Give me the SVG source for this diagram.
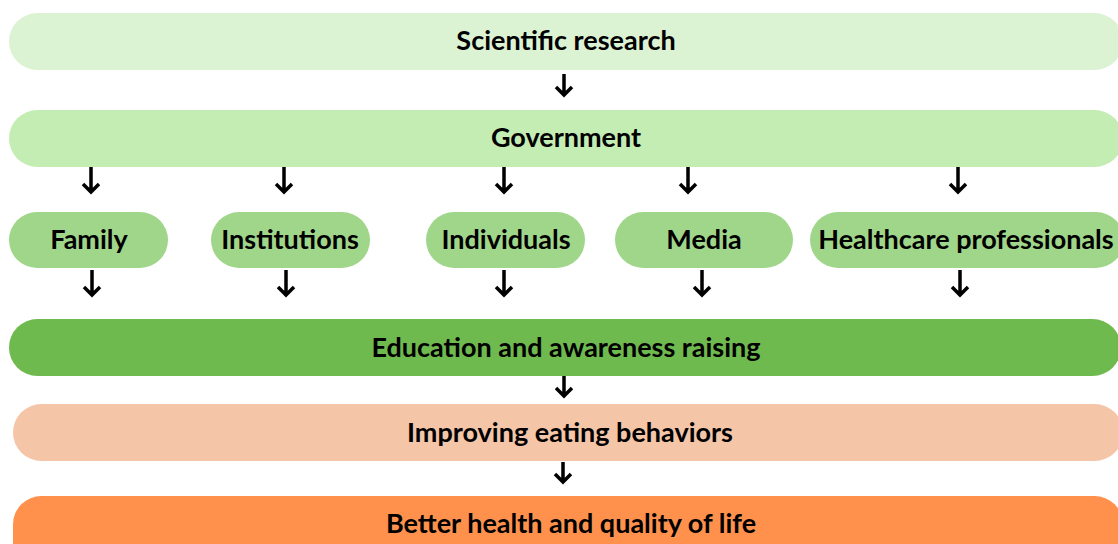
<svg xmlns="http://www.w3.org/2000/svg" width="1118" height="544" viewBox="0 0 1118 544">
  <style>
    .lbl { font-family: Lato, "Liberation Sans", sans-serif; font-weight: 700; font-size: 27px; fill: #000; text-anchor: middle; }
    .arr { fill: none; stroke: #000; stroke-width: 3.5; stroke-linecap: butt; stroke-linejoin: miter; }
  </style>
  <rect width="1118" height="544" fill="#ffffff"/>

  <g id="scientific-research">
    <rect x="9" y="13" width="1114" height="57" rx="28.5" fill="#DCF3D3"/>
    <text class="lbl" x="566" y="50">Scientific research</text>
  </g>

  <g id="government">
    <rect x="9" y="110" width="1114" height="57" rx="28.5" fill="#C4EDB4"/>
    <text class="lbl" x="566" y="147">Government</text>
  </g>

  <g id="family">
    <rect x="9" y="212" width="159" height="56" rx="28" fill="#A0D68A"/>
    <text class="lbl" x="89" y="249">Family</text>
  </g>
  <g id="institutions">
    <rect x="211" y="212" width="159" height="56" rx="28" fill="#A0D68A"/>
    <text class="lbl" x="290" y="249">Institutions</text>
  </g>
  <g id="individuals">
    <rect x="426" y="212" width="159" height="56" rx="28" fill="#A0D68A"/>
    <text class="lbl" x="506" y="249">Individuals</text>
  </g>
  <g id="media">
    <rect x="615" y="212" width="178" height="56" rx="28" fill="#A0D68A"/>
    <text class="lbl" x="704" y="249">Media</text>
  </g>
  <g id="healthcare-professionals">
    <rect x="810" y="212" width="314" height="56" rx="28" fill="#A0D68A"/>
    <text class="lbl" x="966" y="249">Healthcare professionals</text>
  </g>

  <g id="education">
    <rect x="9" y="319" width="1112" height="57" rx="28.5" fill="#6FBA4F"/>
    <text class="lbl" x="566" y="357">Education and awareness raising</text>
  </g>

  <g id="eating-behaviors">
    <rect x="13" y="404" width="1110" height="57" rx="28.5" fill="#F5C5A8"/>
    <text class="lbl" x="570" y="442">Improving eating behaviors</text>
  </g>

  <g id="better-health">
    <rect x="13" y="496" width="1110" height="80" rx="28.5" fill="#FF914D"/>
    <text class="lbl" x="571" y="533">Better health and quality of life</text>
  </g>

  <g id="connectors">
    <!-- research to government -->
    <path class="arr" d="M564 74 V95 M556 87 L564 95 L572 87"/>
    <!-- government to the five actors -->
    <path class="arr" d="M91 167 V192 M83 184 L91 192 L99 184"/>
    <path class="arr" d="M284 167 V192 M276 184 L284 192 L292 184"/>
    <path class="arr" d="M504 167 V192 M496 184 L504 192 L512 184"/>
    <path class="arr" d="M688 167 V192 M680 184 L688 192 L696 184"/>
    <path class="arr" d="M958 167 V192 M950 184 L958 192 L966 184"/>
    <!-- actors to education -->
    <path class="arr" d="M92 270 V295 M84 287 L92 295 L100 287"/>
    <path class="arr" d="M286 270 V295 M278 287 L286 295 L294 287"/>
    <path class="arr" d="M504 270 V295 M496 287 L504 295 L512 287"/>
    <path class="arr" d="M702 270 V295 M694 287 L702 295 L710 287"/>
    <path class="arr" d="M960 270 V295 M952 287 L960 295 L968 287"/>
    <!-- education to eating behaviors -->
    <path class="arr" d="M564 376 V396 M556 388 L564 396 L572 388"/>
    <!-- eating behaviors to health -->
    <path class="arr" d="M563 462 V482 M555 474 L563 482 L571 474"/>
  </g>
</svg>
